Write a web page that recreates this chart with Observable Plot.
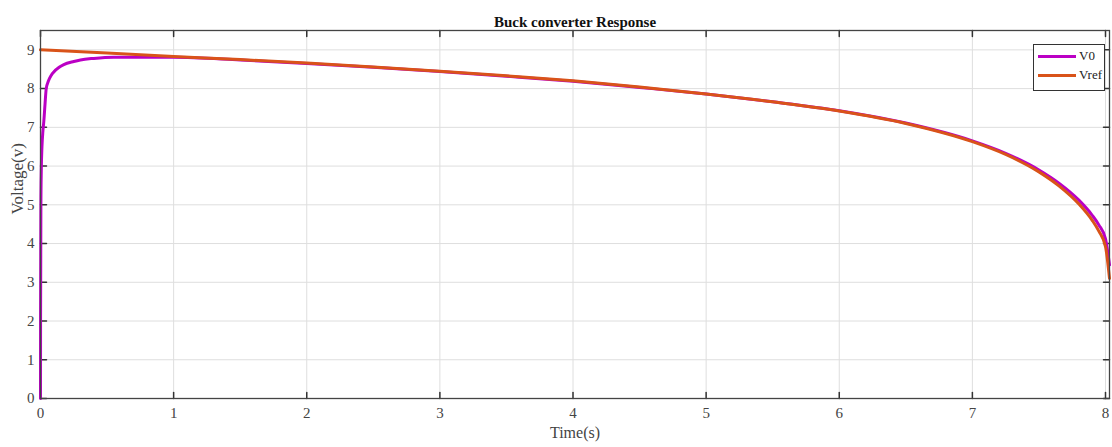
<!DOCTYPE html>
<html>
<head>
<meta charset="utf-8">
<script src="https://cdn.jsdelivr.net/npm/d3@7"></script>
<script src="https://cdn.jsdelivr.net/npm/@observablehq/plot@0.6"></script>
<style>
  body { margin: 0; background: #fff; }
  #wrap { position: relative; width: 1112px; height: 447px; }
  #legend {
    position: absolute; left: 1033px; top: 44px; width: 72px; height: 47px;
    border: 1px solid #333; background: #fff; box-sizing: border-box;
    font-family: "Liberation Serif", serif; font-size: 13px; color: #222;
  }
  .row { position: absolute; left: 4px; height: 16px; display: flex; align-items: center; }
  .sw { width: 38px; height: 0; border-top: 3px solid; margin-right: 3px; }
</style>
</head>
<body>
<div id="wrap">
  <div id="chart"></div>
  <div id="legend">
    <div class="row" style="top:3px"><span class="sw" style="border-color:#bb00c4"></span><span>V0</span></div>
    <div class="row" style="top:22px"><span class="sw" style="border-color:#d95319"></span><span>Vref</span></div>
  </div>
</div>
<script>
// ---- data ----
const seriesNames = ["V0", "Vref"];
const seriesColors = ["#bb00c4", "#d95319"];
const xTicks = [0, 1, 2, 3, 4, 5, 6, 7, 8];
const yTicks = [0, 1, 2, 3, 4, 5, 6, 7, 8, 9];

const vrefTime = [0, 0.5, 1, 1.5, 2, 2.5, 3, 3.5, 4, 4.5, 5, 5.5, 6, 6.5, 7, 7.25, 7.5, 7.65, 7.8, 7.9, 7.95, 8.0, 8.03];
const vrefVolt = [9.0, 8.92, 8.83, 8.75, 8.66, 8.56, 8.45, 8.33, 8.2, 8.04, 7.86, 7.66, 7.42, 7.1, 6.63, 6.3, 5.85, 5.49, 5.02, 4.6, 4.32, 3.92, 3.1];

const v0Time = [0, 0.0005, 0.003, 0.006, 0.011, 0.018, 0.025, 0.034, 0.043, 0.06, 0.08, 0.1, 0.14, 0.175, 0.25, 0.3, 0.4, 0.55, 0.75, 1, 1.5, 2, 2.5, 3, 3.5, 4, 4.5, 5, 5.5, 6, 6.5, 7, 7.25, 7.5, 7.65, 7.8, 7.9, 7.95, 8.0, 8.03];
const v0Volt = [0, 2.0, 5.0, 5.9, 6.5, 6.9, 7.16, 7.6, 8.0, 8.2, 8.34, 8.43, 8.55, 8.62, 8.7, 8.74, 8.78, 8.81, 8.81, 8.81, 8.74, 8.65, 8.55, 8.44, 8.32, 8.19, 8.03, 7.86, 7.66, 7.43, 7.11, 6.65, 6.33, 5.9, 5.56, 5.12, 4.73, 4.48, 4.12, 3.45];

const rows = [
  ...v0Time.map((t, i) => ({series: "V0", t, v: v0Volt[i]})),
  ...vrefTime.map((t, i) => ({series: "Vref", t, v: vrefVolt[i]}))
];

const serif = "Liberation Serif, Times New Roman, serif";
const tickShape = {draw(context, l) { context.moveTo(0, 0); context.lineTo(0, -l); }};

const chart = Plot.plot({
  width: 1112,
  height: 447,
  marginLeft: 40,
  marginRight: 3,
  marginTop: 30,
  marginBottom: 49,
  style: {fontFamily: serif, fontSize: "15px", color: "#333", background: "#fff"},
  x: {domain: [0, 8.03], label: null},
  y: {domain: [0, 9.5], label: null},
  color: {domain: seriesNames, range: seriesColors},
  marks: [
    Plot.gridX(xTicks, {stroke: "#dedede", strokeOpacity: 1}),
    Plot.gridY(yTicks, {stroke: "#dedede", strokeOpacity: 1}),
    Plot.axisX(xTicks, {anchor: "bottom", tickSize: 0, tickPadding: 9, fontSize: 15, fill: "#444", label: null, tickFormat: "d"}),
    Plot.axisY(yTicks, {anchor: "left", tickSize: 0, tickPadding: 6, fontSize: 15, fill: "#444", label: null, tickFormat: "d"}),
    Plot.vector(xTicks, {x: d => d, frameAnchor: "bottom", length: 6, rotate: 0, anchor: "start", shape: tickShape, stroke: "#333"}),
    Plot.vector(xTicks, {x: d => d, frameAnchor: "top", length: 6, rotate: 180, anchor: "start", shape: tickShape, stroke: "#333"}),
    Plot.vector(yTicks, {y: d => d, frameAnchor: "left", length: 6, rotate: 90, anchor: "start", shape: tickShape, stroke: "#333"}),
    Plot.vector(yTicks, {y: d => d, frameAnchor: "right", length: 6, rotate: -90, anchor: "start", shape: tickShape, stroke: "#333"}),
    Plot.line(rows, {x: "t", y: "v", z: "series", stroke: "series", strokeWidth: 3, curve: "monotone-x"}),
    Plot.frame({stroke: "#444", strokeWidth: 1.3}),
    Plot.text(["Buck converter Response"], {frameAnchor: "top", dy: -14, fontWeight: "bold", fontSize: 15, fill: "#111"}),
    Plot.text(["Time(s)"], {frameAnchor: "bottom", dy: 39, fontSize: 16, fill: "#444"}),
    Plot.text(["Voltage(v)"], {frameAnchor: "left", dx: -23, rotate: -90, fontSize: 17, fill: "#444"})
  ]
});
document.getElementById("chart").appendChild(chart);
</script>
</body>
</html>
